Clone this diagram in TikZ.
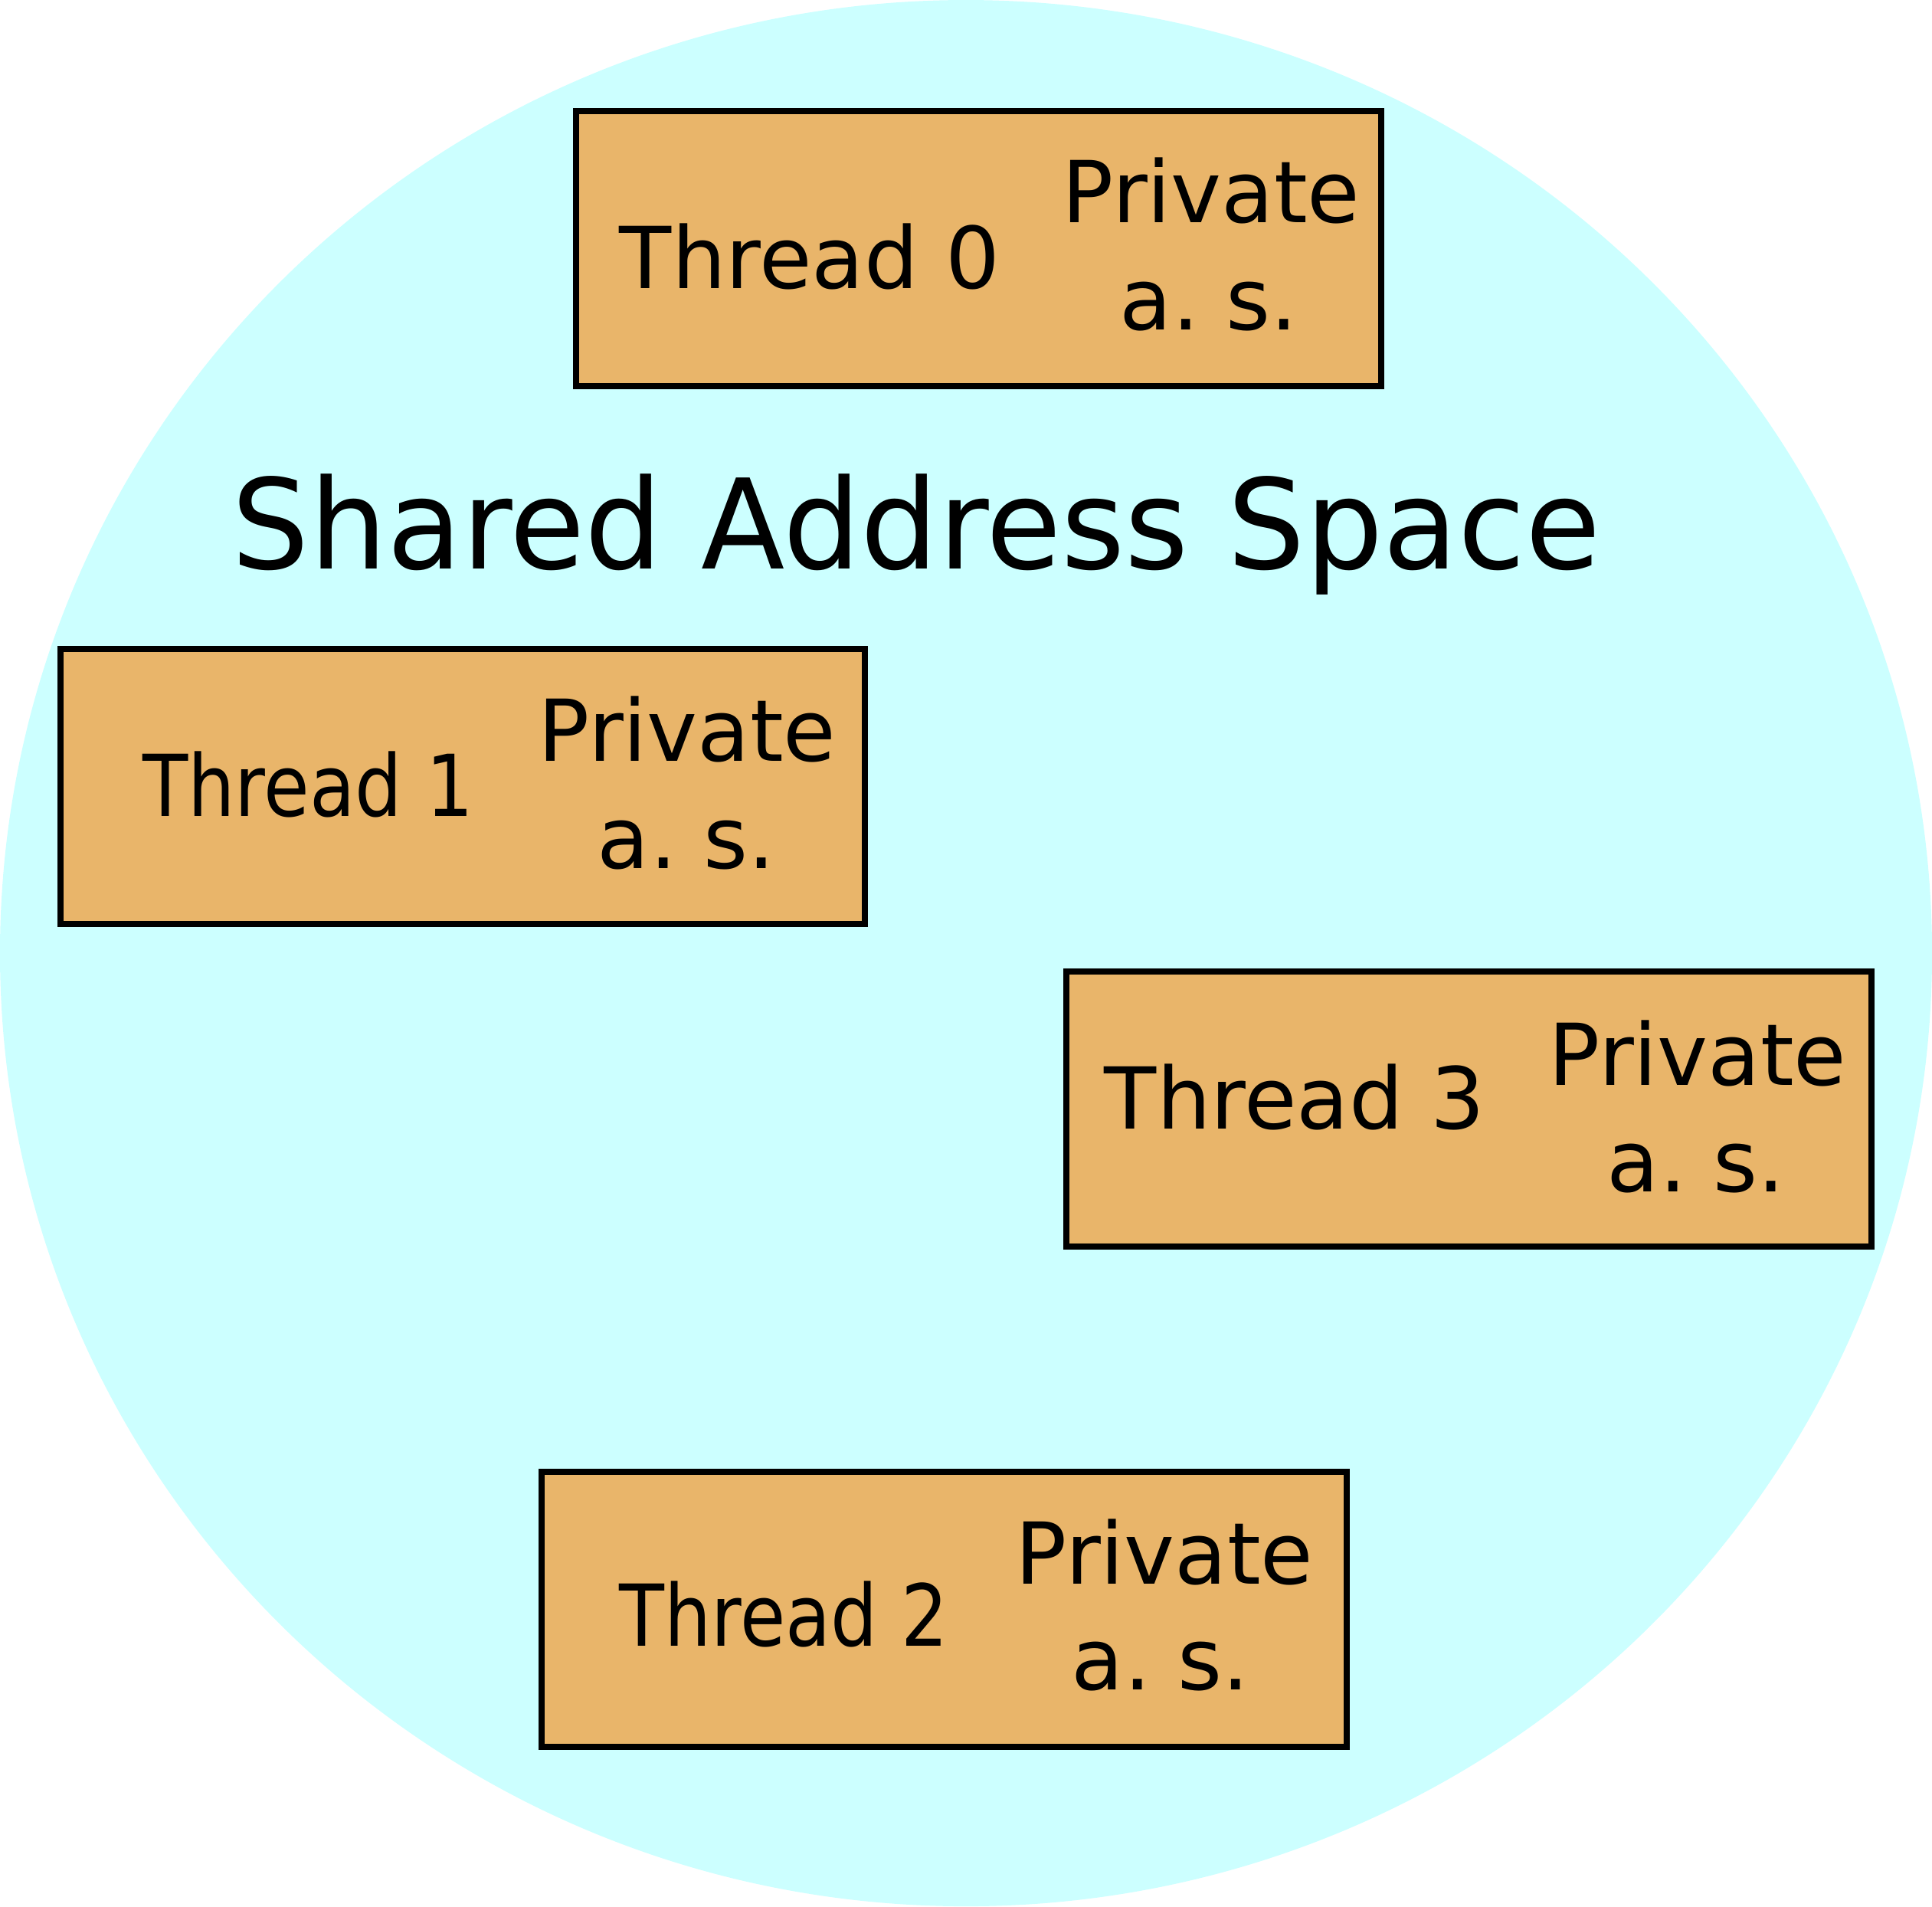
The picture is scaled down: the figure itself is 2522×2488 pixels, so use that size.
\documentclass[tikz,border=0pt]{standalone}
\usepackage{fontspec}
\setmainfont{DejaVu Sans}
\usetikzlibrary{shapes.geometric}
\definecolor{sharedcyan}{HTML}{CCFFFF}
\definecolor{threadorange}{HTML}{E9B56A}
\tikzset{
  tbox/.style={draw=black, fill=threadorange, line width=0.8pt, rectangle,
    minimum width=105.1pt, minimum height=35.9pt, inner sep=0pt, outer sep=0pt},
  ttext/.style={anchor=base, inner sep=0pt, font=\fontsize{11.15pt}{13.5pt}\selectfont},
  titletext/.style={anchor=base, inner sep=0pt, font=\fontsize{16.3pt}{19pt}\selectfont}
}
\frenchspacing
\begin{document}
\begin{tikzpicture}[x=0.1pt, y=-0.1pt]
\useasboundingbox (0,0) rectangle (2522,2488);
\fill[sharedcyan] (1261,1244) ellipse [x radius=1261, y radius=1244];
\node[titletext] (title) at (1196,742) {\scalebox{0.98}[1]{Shared Address Space}};
% Thread 0
\node[tbox] (b0) at (1277.5,324.5) {};
\node[ttext] (t0) at (1057,376) {Thread 0};
\node[ttext] (p0) at (1581,290) {Private};
\node[ttext] (a0) at (1578,430) {a.\ s.};
% Thread 1
\node[tbox] (b1) at (604,1026.5) {};
\node[ttext] (t1) at (402,1065) {\scalebox{0.87}[1]{Thread 1}};
\node[ttext] (p1) at (897,993) {Private};
\node[ttext] (a1) at (896,1133) {a.\ s.};
% Thread 3
\node[tbox] (b3) at (1917.5,1447) {};
\node[ttext] (t3) at (1690,1473) {Thread 3};
\node[ttext] (p3) at (2216,1416) {Private};
\node[ttext] (a3) at (2214,1555) {a.\ s.};
% Thread 2
\node[tbox] (b2) at (1232,2100.5) {};
\node[ttext] (t2) at (1023,2148) {\scalebox{0.865}[1]{Thread 2}};
\node[ttext] (p2) at (1520,2067) {Private};
\node[ttext] (a2) at (1515,2205) {a.\ s.};
\end{tikzpicture}
\end{document}
